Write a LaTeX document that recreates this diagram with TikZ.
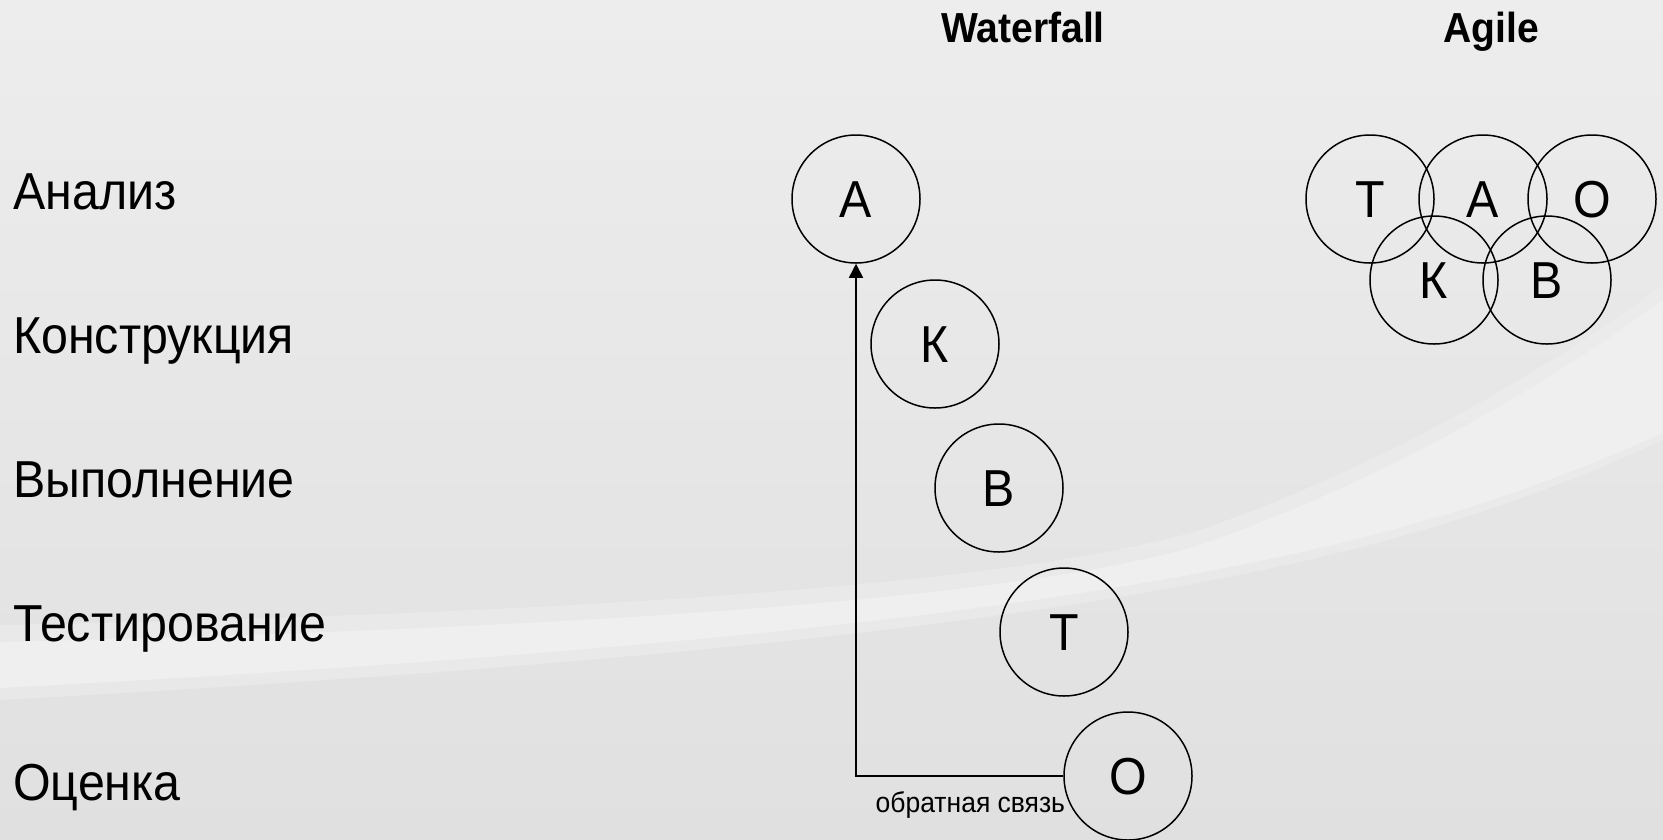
\documentclass[tikz,border=0pt]{standalone}
\usepackage{fontspec}
\setmainfont{Liberation Sans}
\newfontfamily\labfont{Liberation Sans}[FakeStretch=0.93]
\usetikzlibrary{arrows.meta}
\definecolor{bgtop}{HTML}{EDEDED}
\definecolor{bgbot}{HTML}{E0E0E0}
\definecolor{swoosh}{HTML}{EFEFEF}
\tikzset{
  phase/.style={circle,draw=black,line width=1.5pt,minimum size=128pt,inner sep=0pt,
    font=\labfont\fontsize{52}{60}\selectfont,text height=37pt,text depth=0pt},
  rowlabel/.style={anchor=base west,inner sep=0pt,font=\labfont\fontsize{52}{60}\selectfont},
  header/.style={anchor=base,inner sep=0pt,font=\labfont\bfseries\fontsize{42}{50}\selectfont},
  small/.style={anchor=base east,inner sep=0pt,font=\labfont\fontsize{28.5}{34}\selectfont},
  feedback/.style={line width=1.5pt,-{Triangle[length=14pt,width=14pt]}}
}
\begin{document}
\begin{tikzpicture}[x=1pt,y=-1pt]
\useasboundingbox (0,0) rectangle (1663,839);
% background
\shade[top color=bgtop,bottom color=bgbot] (0,0) rectangle (1663,839);
\fill[swoosh,opacity=0.5] (0,625) .. controls (500,615) and (1000,590) .. (1200,530) .. controls (1400,460) and (1560,360) .. (1663,285)
  -- (1663,440) .. controls (1400,560) and (1100,640) .. (0,700) -- cycle;
\fill[swoosh] (0,642) .. controls (500,630) and (1000,605) .. (1200,545) .. controls (1400,475) and (1560,375) .. (1663,300)
  -- (1663,433) .. controls (1400,550) and (1100,630) .. (0,688) -- cycle;
% row labels
\node[rowlabel] (l1) at (13,209) {Анализ};
\node[rowlabel] (l2) at (13,353) {Конструкция};
\node[rowlabel] (l3) at (13,497) {Выполнение};
\node[rowlabel] (l4) at (13,641) {Тестирование};
\node[rowlabel] (l5) at (13,800) {Оценка};
% headers
\node[header] (hw) at (1023,42) {Waterfall};
\node[header] (ha) at (1491,42) {Agile};
% waterfall
\node[phase] (wA) at (856,199) {А};
\node[phase] (wK) at (935,344) {К};
\node[phase] (wB) at (999,488) {В};
\node[phase] (wT) at (1064,632) {Т};
\node[phase] (wO) at (1128,776) {О};
\draw[feedback] (wO.west) -| (wA.south);
\node[small] (fb) at ([xshift=2pt,yshift=-36pt]wO.west) {обратная связь};
% agile
\node[phase] (aT) at (1370,199) {Т};
\node[phase] (aA) at (1483,199) {А};
\node[phase] (aO) at (1592,199) {О};
\node[phase] (aK) at (1434,280) {К};
\node[phase] (aB) at (1547,280) {В};
\end{tikzpicture}
\end{document}
